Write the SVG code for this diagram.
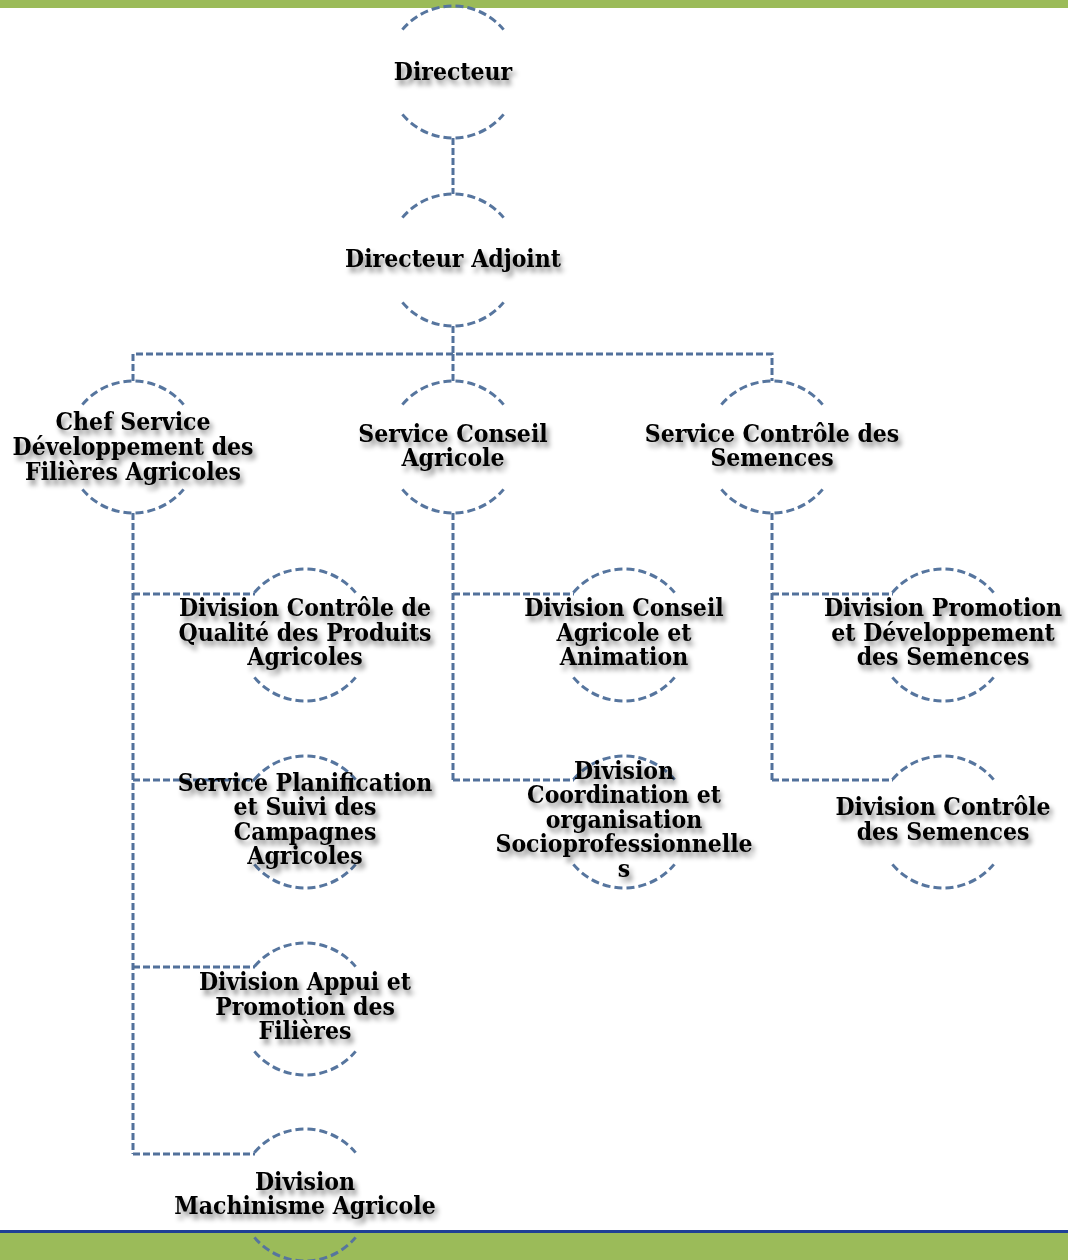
<svg xmlns="http://www.w3.org/2000/svg" xmlns:xlink="http://www.w3.org/1999/xlink" width="1068" height="1260" viewBox="0 0 1068 1260">
<style>
.ring{fill:none;stroke:#56759e;stroke-width:3;stroke-dasharray:8 4}
.conn{fill:none;stroke:#52719b;stroke-width:3;stroke-dasharray:7 3}
.lbl{font-family:"DejaVu Serif Condensed","DejaVu Serif","Liberation Serif",serif;font-stretch:condensed;font-weight:bold;font-size:24.5px;fill:#000;text-anchor:middle;filter:url(#sh)}
</style>
<defs>
<filter id="sh" x="-20%" y="-50%" width="140%" height="200%">
<feDropShadow dx="3" dy="5" stdDeviation="2.6" flood-color="#000" flood-opacity="0.45"/>
</filter>
<path id="ring" class="ring" d="M-50.6,-42.4 A66,66 0 0 1 50.6,-42.4 M-50.6,42.4 A66,66 0 0 0 50.6,42.4"/>
</defs>
<rect x="0" y="0" width="1068" height="8" fill="#9bbb59"/>
<rect x="0" y="1233" width="1068" height="27" fill="#9bbb59"/>
<rect x="0" y="1230" width="1068" height="3" fill="#1f3f96"/>
<g id="connectors">
<path class="conn" d="M453,138 V194"/>
<path class="conn" d="M453,326 V354 M133,381 V354 H772 V381 M453,354 V381"/>
<path class="conn" d="M133,513 V1154 M133,594 H255 M133,780 H255 M133,967 H255 M133,1154 H255"/>
<path class="conn" d="M453,513 V780 M453,594 H574 M453,780 H574"/>
<path class="conn" d="M772,513 V780 M772,594 H893 M772,780 H893"/>
</g>
<g id="n-directeur"><use xlink:href="#ring" x="453" y="72"/><text class="lbl" x="453" y="80">Directeur</text></g>
<g id="n-adjoint"><use xlink:href="#ring" x="453" y="260"/><text class="lbl" x="453" y="267">Directeur Adjoint</text></g>
<g id="n-chef"><use xlink:href="#ring" x="133" y="447"/><text class="lbl" x="133" y="430">Chef Service<tspan x="133" y="455">Développement des</tspan><tspan x="133" y="480">Filières Agricoles</tspan></text></g>
<g id="n-conseil"><use xlink:href="#ring" x="453" y="447"/><text class="lbl" x="453" y="442">Service Conseil<tspan x="453" y="466">Agricole</tspan></text></g>
<g id="n-controle"><use xlink:href="#ring" x="772" y="447"/><text class="lbl" x="772" y="442">Service Contrôle des<tspan x="772" y="466">Semences</tspan></text></g>
<g id="n-qualite"><use xlink:href="#ring" x="305" y="635"/><text class="lbl" x="305" y="616">Division Contrôle de<tspan x="305" y="641">Qualité des Produits</tspan><tspan x="305" y="665">Agricoles</tspan></text></g>
<g id="n-planif"><use xlink:href="#ring" x="305" y="822"/><text class="lbl" x="305" y="791">Service Planification<tspan x="305" y="815">et Suivi des</tspan><tspan x="305" y="840">Campagnes</tspan><tspan x="305" y="864">Agricoles</tspan></text></g>
<g id="n-appui"><use xlink:href="#ring" x="305" y="1009"/><text class="lbl" x="305" y="990">Division Appui et<tspan x="305" y="1015">Promotion des</tspan><tspan x="305" y="1039">Filières</tspan></text></g>
<g id="n-machinisme"><use xlink:href="#ring" x="305" y="1195"/><text class="lbl" x="305" y="1190">Division<tspan x="305" y="1214">Machinisme Agricole</tspan></text></g>
<g id="n-animation"><use xlink:href="#ring" x="624" y="635"/><text class="lbl" x="624" y="616">Division Conseil<tspan x="624" y="641">Agricole et</tspan><tspan x="624" y="665">Animation</tspan></text></g>
<g id="n-coord"><use xlink:href="#ring" x="624" y="822"/><text class="lbl" x="624" y="779">Division<tspan x="624" y="803">Coordination et</tspan><tspan x="624" y="828">organisation</tspan><tspan x="624" y="852">Socioprofessionnelle</tspan><tspan x="624" y="877">s</tspan></text></g>
<g id="n-promotion"><use xlink:href="#ring" x="943" y="635"/><text class="lbl" x="943" y="616">Division Promotion<tspan x="943" y="641">et Développement</tspan><tspan x="943" y="665">des Semences</tspan></text></g>
<g id="n-semences"><use xlink:href="#ring" x="943" y="822"/><text class="lbl" x="943" y="815">Division Contrôle<tspan x="943" y="840">des Semences</tspan></text></g>
</svg>
